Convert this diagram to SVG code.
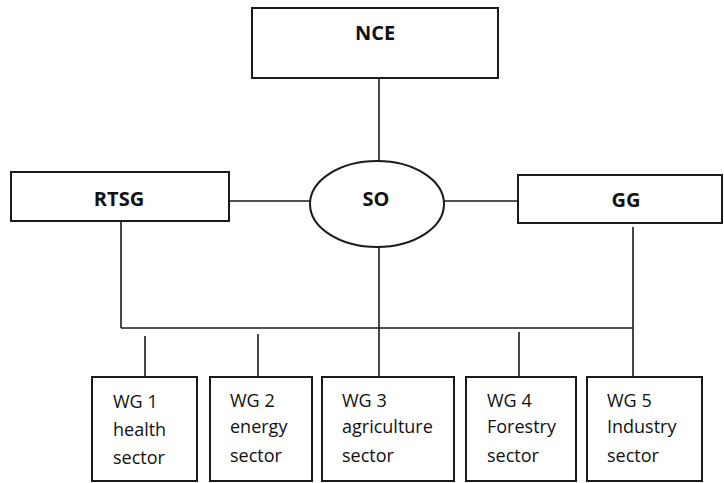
<svg xmlns="http://www.w3.org/2000/svg" width="724" height="483" viewBox="0 0 724 483">
<style>
.box{fill:#fff;stroke:#1a1a1a;stroke-width:2}
.ln{stroke:#1a1a1a;stroke-width:1.6;fill:none}
.lbl{font-family:"Open Sans","Liberation Sans",sans-serif;font-weight:bold;font-size:20px;fill:#111;text-anchor:middle}
.wg{font-family:"Open Sans","Liberation Sans",sans-serif;font-size:18px;fill:#111}
</style>
<rect width="724" height="483" fill="#fff"/>
<g id="connectors">
<line class="ln" x1="379" y1="78" x2="379" y2="161"/>
<line class="ln" x1="229" y1="201" x2="310" y2="201"/>
<line class="ln" x1="444" y1="201" x2="518" y2="201"/>
<line class="ln" x1="121" y1="221" x2="121" y2="328"/>
<line class="ln" x1="379" y1="247" x2="379" y2="377"/>
<line class="ln" x1="633" y1="227" x2="633" y2="377"/>
<line class="ln" x1="121" y1="328" x2="633" y2="328"/>
<line class="ln" x1="145" y1="336" x2="145" y2="377"/>
<line class="ln" x1="258" y1="334" x2="258" y2="377"/>
<line class="ln" x1="519" y1="332" x2="519" y2="377"/>
</g>
<g id="NCE"><rect class="box" x="252" y="8" width="246" height="70"/><text class="lbl" x="375" y="40">NCE</text></g>
<g id="RTSG"><rect class="box" x="11" y="172" width="218" height="49"/><text class="lbl" x="119" y="206">RTSG</text></g>
<g id="SO"><ellipse class="box" cx="377" cy="204" rx="67" ry="43"/><text class="lbl" x="376" y="206">SO</text></g>
<g id="GG"><rect class="box" x="518" y="175" width="204" height="48"/><text class="lbl" x="626" y="207">GG</text></g>
<g id="WG1"><rect class="box" x="92" y="377" width="105" height="104"/><text class="wg" x="113" y="408">WG 1<tspan x="113" y="436">health</tspan><tspan x="113" y="464">sector</tspan></text></g>
<g id="WG2"><rect class="box" x="210" y="377" width="102" height="104"/><text class="wg" x="230" y="407">WG 2<tspan x="230" y="433">energy</tspan><tspan x="230" y="462">sector</tspan></text></g>
<g id="WG3"><rect class="box" x="322" y="377" width="132" height="104"/><text class="wg" x="342" y="407">WG 3<tspan x="342" y="433">agriculture</tspan><tspan x="342" y="462">sector</tspan></text></g>
<g id="WG4"><rect class="box" x="466" y="377" width="110" height="104"/><text class="wg" x="487" y="407">WG 4<tspan x="487" y="433">Forestry</tspan><tspan x="487" y="462">sector</tspan></text></g>
<g id="WG5"><rect class="box" x="587" y="377" width="115" height="104"/><text class="wg" x="607" y="407">WG 5<tspan x="607" y="433">Industry</tspan><tspan x="607" y="462">sector</tspan></text></g>
</svg>
